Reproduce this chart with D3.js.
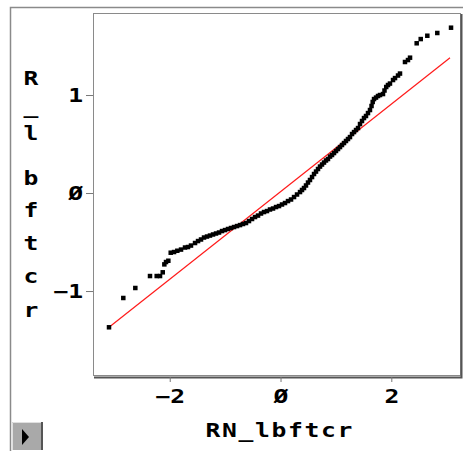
<!DOCTYPE html>
<html>
<head>
<meta charset="utf-8">
<script src="https://cdn.jsdelivr.net/npm/d3@7"></script>
<style>
  body { margin: 0; background: #fff; }
  text { font-family: 'DejaVu Sans Mono', monospace; font-weight: bold; fill: #000; }
</style>
</head>
<body>
<script>
// normal quantiles (x) and sorted sample values (y)
var qx = [-3.096, -2.838, -2.621, -2.356, -2.235, -2.175, -2.126, -2.097, -2.067, -2.025,
  -1.982, -1.922, -1.863, -1.796, -1.724, -1.670, -1.616, -1.543, -1.489, -1.435,
  -1.381, -1.327, -1.273, -1.218, -1.164, -1.110, -1.056, -1.002, -0.948, -0.894,
  -0.839, -0.785, -0.731, -0.677, -0.623, -0.569, -0.514, -0.460, -0.406, -0.352,
  -0.298, -0.244, -0.190, -0.135, -0.081, -0.027, 0.027, 0.081, 0.135, 0.190,
  0.244, 0.298, 0.352, 0.388, 0.424, 0.460, 0.496, 0.532, 0.569, 0.605,
  0.641, 0.677, 0.713, 0.749, 0.785, 0.821, 0.857, 0.894, 0.930, 0.966,
  1.002, 1.038, 1.074, 1.110, 1.146, 1.182, 1.218, 1.254, 1.291, 1.327,
  1.363, 1.399, 1.435, 1.471, 1.507, 1.543, 1.579, 1.615, 1.643, 1.664,
  1.688, 1.724, 1.760, 1.796, 1.850, 1.877, 1.908, 1.940, 1.976, 2.031,
  2.067, 2.121, 2.157, 2.247, 2.301, 2.338, 2.458, 2.531, 2.650, 2.830, 3.078];
var qy = [-1.370, -1.071, -0.969, -0.847, -0.847, -0.847, -0.809, -0.728, -0.704, -0.691,
  -0.609, -0.602, -0.589, -0.577, -0.556, -0.551, -0.536, -0.510, -0.490, -0.474,
  -0.454, -0.444, -0.434, -0.423, -0.413, -0.403, -0.388, -0.378, -0.367, -0.357,
  -0.347, -0.337, -0.327, -0.316, -0.306, -0.286, -0.265, -0.245, -0.230, -0.209,
  -0.194, -0.184, -0.168, -0.158, -0.143, -0.133, -0.117, -0.102, -0.082, -0.066,
  -0.041, -0.015, 0.010, 0.031, 0.051, 0.077, 0.107, 0.133, 0.163, 0.194,
  0.219, 0.245, 0.270, 0.291, 0.311, 0.332, 0.347, 0.372, 0.388, 0.408,
  0.429, 0.449, 0.469, 0.490, 0.510, 0.531, 0.551, 0.571, 0.602, 0.622,
  0.643, 0.663, 0.704, 0.735, 0.765, 0.786, 0.816, 0.847, 0.888, 0.929,
  0.959, 0.974, 0.990, 1.000, 1.010, 1.046, 1.082, 1.102, 1.117, 1.153,
  1.173, 1.199, 1.219, 1.337, 1.357, 1.381, 1.528, 1.571, 1.605, 1.633, 1.687];

// reference line end points
var refX = [-3.096, 3.060];
var refY = [-1.370, 1.381];

var xTicks = [-2, 0, 2];
var yTicks = [-1, 0, 1];
var xTitle = 'RN_lbftcr';
var yTitle = 'R_lbftcr';

var chart = { width: 463, height: 451, left: 93, right: 461, top: 13, bottom: 376 };
var sx = 1.3; // glyphs in the original are wide, stretch them

var svg = d3.select('body')
            .append('svg')
            .attr('width', chart.width)
            .attr('height', chart.height);

var x = d3.scaleLinear().domain([-3.385, 3.258]).range([chart.left, chart.right]);
var y = d3.scaleLinear().domain([-1.867, 1.837]).range([chart.bottom, chart.top]);

var fmt = function(d){ return d < 0 ? '\u2212' + Math.abs(d) : d === 0 ? '\u00d8' : String(d); };

// outer window frame
svg.append('path')
   .attr('d', 'M10.5,451 V7.5 H463')
   .attr('fill', 'none')
   .attr('stroke', '#8a8a8a')
   .attr('stroke-width', 1.5);

// plot box with shadow
svg.append('rect')
   .attr('x', chart.left + 0.5).attr('y', chart.top + 0.5)
   .attr('width', chart.right - chart.left - 1).attr('height', chart.bottom - chart.top - 1)
   .attr('fill', '#fff')
   .attr('stroke', '#8a8a8a');
svg.append('path')
   .attr('d', 'M' + (chart.right + 0.5) + ',' + (chart.top + 1) + ' V' + (chart.bottom + 1.5) + ' H' + (chart.left + 1))
   .attr('fill', 'none')
   .attr('stroke', '#555')
   .attr('stroke-width', 2);

// axes
var xAxis = svg.append('g')
               .attr('transform', 'translate(0,' + (chart.bottom + 1) + ')')
               .call(d3.axisBottom(x).tickValues(xTicks).tickSize(5).tickFormat(fmt));
var yAxis = svg.append('g')
               .attr('transform', 'translate(' + chart.left + ',0)')
               .call(d3.axisLeft(y).tickValues(yTicks).tickSize(7).tickFormat(fmt));
[xAxis, yAxis].forEach(function(a){
  a.select('.domain').remove();
  a.selectAll('line').attr('stroke', '#777');
  a.selectAll('text')
   .style('font-family', "'DejaVu Sans Mono', monospace")
   .style('font-weight', 'bold')
   .style('font-size', '19px');
});
xAxis.selectAll('text')
     .attr('y', 0).attr('dy', 0)
     .attr('transform', 'translate(0,26) scale(' + sx + ',1)');
yAxis.selectAll('text')
     .attr('x', 0).attr('dy', '0.36em')
     .attr('transform', 'translate(-10,0) scale(' + sx + ',1)');

// reference line
svg.append('line')
   .attr('x1', x(refX[0])).attr('y1', y(refY[0]))
   .attr('x2', x(refX[1])).attr('y2', y(refY[1]))
   .attr('stroke', '#ff1a1a')
   .attr('stroke-width', 1.2);

// points
var pts = qx.map(function(d, i){ return { x: d, y: qy[i] }; });
svg.append('g')
   .selectAll('rect')
   .data(pts)
   .enter()
     .append('rect')
     .attr('x', function(d){ return x(d.x) - 2.25; })
     .attr('y', function(d){ return y(d.y) - 2.25; })
     .attr('width', 4.5)
     .attr('height', 4.5)
     .style('fill', '#000');

// titles
svg.append('text')
   .attr('transform', 'translate(279,437) scale(' + sx + ',1)')
   .attr('text-anchor', 'middle')
   .attr('textLength', 147 / sx)
   .attr('lengthAdjust', 'spacing')
   .style('font-size', '19px')
   .text(xTitle);

var yBase = [85, 113, 140, 185, 217, 250, 283, 317];
svg.append('g')
   .selectAll('text')
   .data(yTitle.split(''))
   .enter()
     .append('text')
     .attr('transform', function(d, i){ return 'translate(31,' + yBase[i] + ') scale(' + sx + ',1)'; })
     .attr('text-anchor', 'middle')
     .style('font-size', '19px')
     .text(function(d){ return d; });

// little play button
var btn = svg.append('g').attr('transform', 'translate(12,422)');
btn.append('rect').attr('width', 31).attr('height', 28).attr('fill', '#a9a9a9');
btn.append('path').attr('d', 'M0.5,28 V0.5 H31').attr('fill', 'none').attr('stroke', '#e0e0e0');
btn.append('path').attr('d', 'M30,0 V28').attr('fill', 'none').attr('stroke', '#555').attr('stroke-width', 2);
btn.append('path').attr('d', 'M10,7 L17,15 L10,23 Z').attr('fill', '#000');
</script>
</body>
</html>
